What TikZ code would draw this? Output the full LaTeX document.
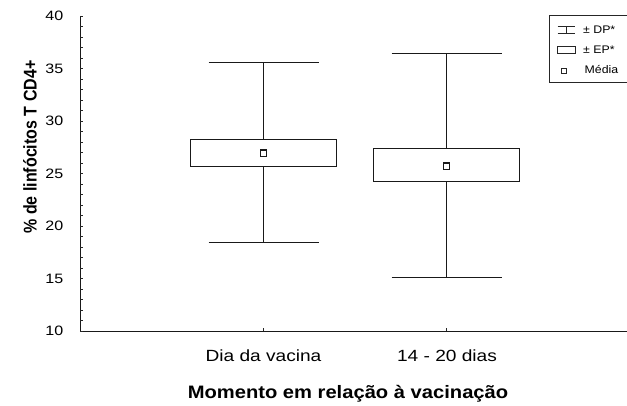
\documentclass[tikz,border=0pt]{standalone}
\usepackage{fontspec}
\setmainfont{Liberation Sans}
\usepackage{graphicx}
\newcommand{\hs}[2][1.18]{\scalebox{#1}[1]{#2}}
\tikzset{
  declare function={Y(\v)=16+(40-\v)*10.5;},
  ln/.style={line width=0.95pt, draw=black!90},
  ticklab/.style={inner sep=0pt, font=\fontsize{13.6}{13}\selectfont},
  catlab/.style={inner sep=0pt, anchor=base, font=\fontsize{16.2}{16}\selectfont},
  legtxt/.style={inner sep=0pt, anchor=base west, font=\fontsize{11}{11}\selectfont},
  meanbox/.style={line width=1.2pt, draw=black!90, fill=white},
}
\begin{document}
\begin{tikzpicture}[x=1pt,y=-1pt]
\useasboundingbox (0,0) rectangle (627,406);
\clip (0,0) rectangle (627,406);
\fill[white] (0,0) rectangle (627,406);
% axes
\draw[ln] (80,16) -- (80,331) -- (627,331);
\foreach \v in {10,...,40} \draw[line width=0.7pt, black!85] (80,{Y(\v)}) -- (82.5,{Y(\v)});
\foreach \v in {10,15,...,40} \node[ticklab, anchor=east] (yl\v) at (63.5,{Y(\v)}) {\hs{\v}};
\draw[line width=0.8pt, black!85] (263.5,331) -- (263.5,328);
\draw[line width=0.8pt, black!85] (446.5,331) -- (446.5,328);
\node[catlab] (c1) at (263.5,361.7) {\hs{Dia da vacina}};
\node[catlab] (c2) at (447,361.7) {\hs{14 - 20 dias}};
\node[inner sep=0pt, anchor=base, font=\bfseries\fontsize{18}{18}\selectfont] (xt) at (348,398.3) {\hs[1.12]{Momento em relação à vacinação}};
\node[inner sep=0pt, rotate=90, font=\bfseries\fontsize{16}{16}\selectfont] (yt) at (30,147) {\scalebox{1}[1.15]{\% de linfócitos T CD4+}};
% box 1
\coordinate (a1) at (263.5,{Y(35.6)});
\coordinate (b1) at (263.5,{Y(18.4)});
\draw[ln] (a1) -- (b1);
\draw[ln] ([xshift=-55pt]a1) -- ([xshift=55pt]a1);
\draw[ln] ([xshift=-55pt]b1) -- ([xshift=55pt]b1);
\draw[ln, fill=white] (190.5,{Y(28.25)}) rectangle (336.5,{Y(25.65)});
\draw[meanbox] (260.4,{Y(26.95)-3.1}) rectangle (266.6,{Y(26.95)+3.1});
% box 2
\coordinate (a2) at (446.5,{Y(36.45)});
\coordinate (b2) at (446.5,{Y(15.1)});
\draw[ln] (a2) -- (b2);
\draw[ln] ([xshift=-55pt]a2) -- ([xshift=55pt]a2);
\draw[ln] ([xshift=-55pt]b2) -- ([xshift=55pt]b2);
\draw[ln, fill=white] (373.5,{Y(27.35)}) rectangle (519.5,{Y(24.2)});
\draw[meanbox] (443.4,{Y(25.7)-3.1}) rectangle (449.6,{Y(25.7)+3.1});
% legend
\draw[line width=0.8pt, black!85] (549.5,15) rectangle (640,82);
\draw[line width=0.8pt, black!85] (557.7,26.5) -- (575,26.5) (557.7,33.3) -- (575,33.3) (566.3,26.5) -- (566.3,33.3);
\draw[line width=0.8pt, black!85] (557.5,46.5) rectangle (575,53.3);
\draw[line width=1.1pt, black!85] (561.6,68.3) rectangle (566.6,73.3);
\node[legtxt] (l1) at (583,33.4) {\hs[1.12]{± DP*}};
\node[legtxt] (l2) at (583,53.6) {\hs[1.12]{± EP*}};
\node[legtxt] (l3) at (584.5,74) {\hs[1.12]{Média}};
\end{tikzpicture}
\end{document}
